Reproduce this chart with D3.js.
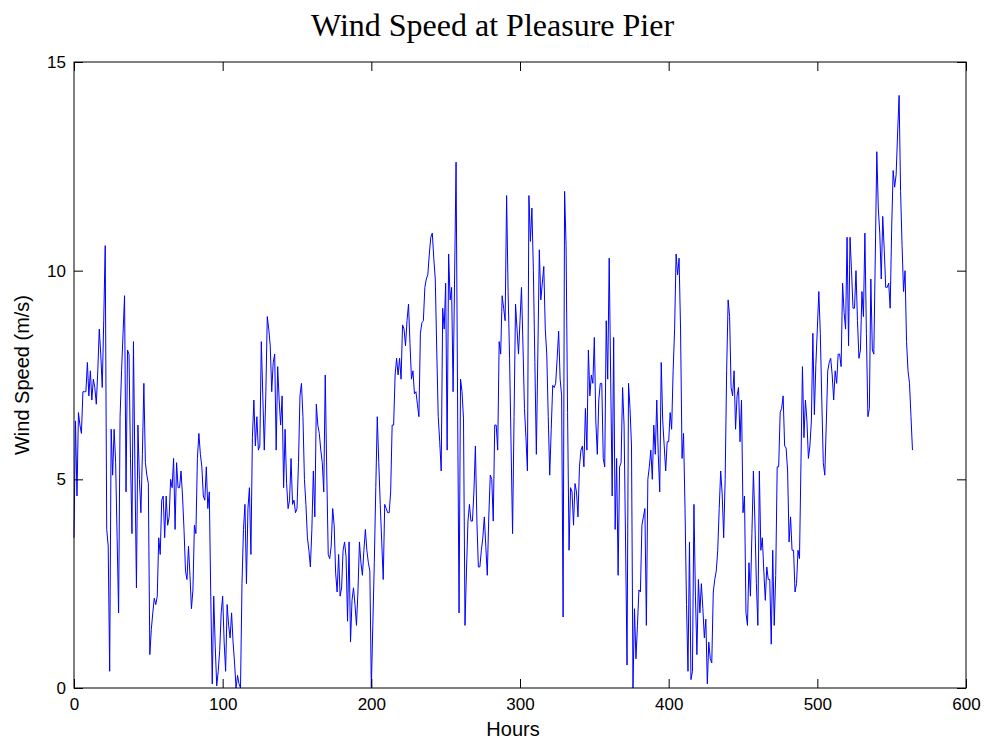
<!DOCTYPE html>
<html>
<head>
<meta charset="utf-8">
<script src="https://cdn.jsdelivr.net/npm/d3@7/dist/d3.min.js"></script>
<style>
body { margin: 0; background: #ffffff; }
</style>
</head>
<body>
<svg id="drawing_region"></svg>
<script>
// hourly wind speed (m/s), one value per hour starting at hour 0
const wind_speed = [
    3.6, 6.4, 4.6, 6.6, 6.3, 6.1, 7.1, 7.1, 7.1, 7.8,
    7.0, 7.6, 6.9, 7.4, 7.2, 6.8, 7.6, 8.6, 8.0, 7.2,
    8.8, 10.6, 3.8, 3.4, 0.4, 6.2, 5.1, 6.2, 5.4, 3.6,
    1.8, 6.5, 7.6, 8.5, 9.4, 4.7, 8.1, 8.0, 5.5, 3.7,
    8.3, 5.2, 2.4, 6.3, 5.0, 4.2, 5.6, 7.3, 5.4, 5.1,
    4.9, 0.8, 1.4, 1.8, 2.15, 2.0, 2.2, 3.6, 3.2, 4.5,
    4.6, 3.6, 4.6, 3.9, 4.1, 5.0, 4.8, 5.5, 3.8, 5.4,
    4.8, 4.8, 5.2, 4.6, 3.8, 2.8, 2.6, 3.4, 2.7, 1.9,
    2.35, 3.9, 3.7, 5.5, 6.1, 5.6, 5.3, 4.6, 4.5, 5.3,
    4.3, 4.7, 2.2, 0.1, 2.2, 1.0, 0.05, 0.4, 0.9, 1.8,
    2.2, 1.1, 0.4, 2.0, 1.5, 1.2, 1.8, 1.1, 0.6, 0.0,
    0.3, 0.1, 0.0, 2.5, 3.8, 4.4, 2.5, 4.3, 4.8, 3.2,
    6.0, 6.9, 5.8, 6.5, 5.7, 5.8, 8.3, 7.0, 5.7, 7.0,
    8.9, 8.6, 8.2, 7.1, 7.8, 8.0, 5.7, 7.7, 6.9, 6.3,
    7.0, 4.8, 6.2, 4.9, 4.3, 4.5, 5.5, 4.4, 4.5, 4.2,
    4.3, 5.4, 7.0, 7.3, 6.5, 5.0, 4.4, 3.6, 3.3, 2.9,
    3.8, 5.2, 4.1, 6.8, 6.3, 6.1, 5.7, 5.4, 4.7, 7.5,
    5.2, 3.2, 3.1, 3.4, 4.3, 3.9, 2.75, 2.3, 3.2, 2.2,
    2.4, 3.3, 3.5, 3.15, 1.6, 3.5, 1.1, 2.1, 2.4, 2.0,
    1.5, 2.3, 3.5, 3.0, 2.7, 3.3, 3.8, 3.3, 3.0, 2.8,
    0.0, 1.5, 3.0, 4.8, 6.5, 5.4, 4.4, 3.5, 2.6, 4.4,
    4.3, 4.2, 4.2, 4.7, 6.3, 6.3, 7.5, 7.9, 7.5, 7.9,
    7.4, 8.7, 8.6, 8.2, 8.8, 9.2, 8.25, 7.4, 7.6, 7.05,
    7.1, 6.8, 6.5, 8.5, 8.75, 8.8, 9.6, 9.8, 9.9, 10.4,
    10.8, 10.9, 10.3, 9.8, 8.1, 6.5, 5.9, 5.2, 9.1, 8.6,
    9.7, 5.7, 10.4, 9.3, 9.6, 7.1, 9.8, 12.6, 7.0, 1.8,
    7.4, 7.1, 6.45, 1.5, 2.8, 4.0, 4.4, 4.0, 4.0, 4.7,
    5.8, 4.0, 2.9, 2.9, 3.3, 3.6, 4.1, 3.4, 2.7, 4.1,
    5.1, 5.0, 4.0, 6.3, 6.3, 5.7, 8.3, 8.0, 9.4, 9.1,
    8.8, 11.8, 9.5, 7.9, 5.8, 3.7, 6.5, 9.2, 8.6, 8.0,
    8.8, 9.6, 8.2, 6.7, 6.0, 5.2, 11.8, 10.7, 11.5, 10.0,
    7.8, 5.6, 8.0, 10.5, 9.3, 9.7, 10.1, 8.6, 8.0, 6.5,
    5.1, 6.2, 7.25, 7.2, 7.3, 7.9, 8.55, 7.4, 7.0, 1.7,
    11.9, 10.6, 6.6, 3.3, 4.8, 4.7, 3.9, 4.9, 4.7, 4.1,
    5.3, 5.7, 5.8, 5.3, 6.7, 5.7, 8.1, 7.0, 7.5, 7.3,
    8.4, 6.4, 5.6, 6.9, 7.3, 7.3, 5.5, 5.3, 8.8, 7.4,
    10.3, 7.4, 4.6, 8.4, 3.8, 5.5, 2.7, 5.3, 5.4, 7.2,
    6.3, 3.5, 0.55, 7.3, 6.7, 5.8, 0.0, 1.9, 0.7, 1.5,
    2.35, 2.3, 3.9, 4.1, 4.3, 1.5, 5.0, 5.3, 5.7, 5.0,
    6.3, 5.6, 6.9, 5.6, 4.7, 7.8, 6.4, 5.8, 5.2, 5.9,
    5.9, 6.6, 6.2, 7.6, 8.6, 10.4, 9.9, 10.3, 8.6, 5.5,
    6.1, 4.3, 2.0, 0.4, 3.5, 0.2, 0.4, 4.4, 2.2, 0.8,
    2.6, 1.8, 2.5, 1.9, 1.2, 1.65, 0.1, 1.1, 0.7, 0.6,
    2.3, 2.6, 2.8, 3.3, 4.3, 5.2, 4.65, 3.6, 5.0, 7.6,
    9.3, 8.9, 7.2, 7.0, 7.6, 6.2, 7.0, 7.2, 5.9, 6.9,
    4.2, 4.6, 1.8, 1.5, 3.0, 2.2, 3.7, 5.2, 4.0, 2.5,
    1.5, 5.2, 3.3, 3.6, 2.8, 2.1, 2.9, 2.6, 2.6, 1.05,
    3.3, 1.5, 2.7, 5.3, 5.3, 6.6, 6.7, 7.0, 5.8, 5.75,
    5.2, 3.5, 4.1, 3.3, 3.3, 2.3, 2.5, 3.3, 3.1, 5.4,
    7.7, 6.0, 6.9, 6.4, 5.5, 5.8, 6.4, 8.5, 6.55, 7.75,
    8.6, 9.5, 8.5, 6.9, 5.4, 5.1, 6.3, 7.6, 7.8, 7.9,
    7.5, 6.9, 7.6, 7.3, 8.0, 8.0, 7.7, 9.7, 9.0, 8.6,
    10.8, 8.2, 10.8, 10.0, 9.1, 9.1, 10.0, 8.8, 7.9, 8.1,
    9.5, 8.9, 10.9, 8.5, 6.5, 6.7, 9.8, 8.1, 8.0, 10.4,
    12.85, 11.5, 10.9, 9.8, 11.3, 10.5, 9.6, 9.6, 9.7, 9.1,
    11.0, 12.4, 12.0, 12.3, 13.3, 14.2, 11.9, 10.6, 9.5, 10.0,
    8.3, 7.6, 7.3, 6.5, 5.7
];

const x_ticks = [0, 100, 200, 300, 400, 500, 600];
const y_ticks = [0, 5, 10, 15];

const title_text = "Wind Speed at Pleasure Pier";
const x_label = "Hours";
const y_label = "Wind Speed (m/s)";

class WindChart {

    constructor( config, data ) {
        this.config = {
            parent: config.parent,
            width: config.width || 985,
            height: config.height || 742,
            margin: config.margin || {top:62, right:19, bottom:54, left:74}
        };
        this.data = data;
        this.init();
    }

    init() {
        let self = this;

        self.svg = d3.select( self.config.parent )
            .attr('width', self.config.width)
            .attr('height', self.config.height);

        self.inner_width = self.config.width - self.config.margin.left - self.config.margin.right;
        self.inner_height = self.config.height - self.config.margin.top - self.config.margin.bottom;

        self.chart = self.svg.append('g')
            .attr('transform', `translate(${self.config.margin.left}, ${self.config.margin.top})`);

        self.xscale = d3.scaleLinear()
            .domain( [0, 600] )
            .range( [0, self.inner_width] );

        self.yscale = d3.scaleLinear()
            .domain( [0, 15] )
            .range( [self.inner_height, 0] );

        // matlab style: ticks point inward, on all four sides
        self.xaxis = d3.axisBottom( self.xscale )
            .tickValues( x_ticks )
            .tickSizeInner( -9 )
            .tickSizeOuter( 0 )
            .tickPadding( 10 );

        self.yaxis = d3.axisLeft( self.yscale )
            .tickValues( y_ticks )
            .tickSizeInner( -9 )
            .tickSizeOuter( 0 )
            .tickPadding( 8 );

        self.xaxis_top = d3.axisTop( self.xscale )
            .tickValues( x_ticks )
            .tickSizeInner( -9 )
            .tickSizeOuter( 0 )
            .tickFormat( '' );

        self.yaxis_right = d3.axisRight( self.yscale )
            .tickValues( y_ticks )
            .tickSizeInner( -9 )
            .tickSizeOuter( 0 )
            .tickFormat( '' );

        self.svg.append('text')
            .attr('x', self.config.width / 2)
            .attr('y', 36)
            .attr('text-anchor', 'middle')
            .attr('font-family', '"Liberation Serif", "Times New Roman", serif')
            .attr('font-size', 32)
            .text( title_text );

        self.svg.append('text')
            .attr('x', 513)
            .attr('y', 736)
            .attr('text-anchor', 'middle')
            .attr('font-family', '"Liberation Sans", Arial, sans-serif')
            .attr('font-size', 20)
            .text( x_label );

        const ly = self.config.margin.top + self.inner_height / 2;
        self.svg.append('text')
            .attr('x', 29)
            .attr('y', ly)
            .attr('transform', `rotate(-90, 29, ${ly})`)
            .attr('text-anchor', 'middle')
            .attr('font-family', '"Liberation Sans", Arial, sans-serif')
            .attr('font-size', 20)
            .text( y_label );
    }

    render() {
        let self = this;

        const line = d3.line()
            .x( (d, i) => self.xscale(i) )
            .y( d => self.yscale(d) );

        self.chart.append('path')
            .datum( self.data )
            .attr('fill', 'none')
            .attr('stroke', '#0000ff')
            .attr('stroke-width', 1)
            .attr('stroke-linejoin', 'round')
            .attr('d', line);

        const style_axis = g => {
            g.select('.domain').remove();
            g.selectAll('.tick line').attr('stroke', '#000');
            g.selectAll('.tick text')
                .attr('fill', '#000')
                .attr('font-family', '"Liberation Sans", Arial, sans-serif')
                .attr('font-size', 17);
        };

        self.chart.append('g')
            .attr('transform', `translate(0, ${self.inner_height})`)
            .call( self.xaxis )
            .call( style_axis );

        self.chart.append('g')
            .call( self.yaxis )
            .call( style_axis );

        self.chart.append('g')
            .call( self.xaxis_top )
            .call( style_axis );

        self.chart.append('g')
            .attr('transform', `translate(${self.inner_width}, 0)`)
            .call( self.yaxis_right )
            .call( style_axis );

        self.chart.append('rect')
            .attr('x', 0)
            .attr('y', 0)
            .attr('width', self.inner_width)
            .attr('height', self.inner_height)
            .attr('fill', 'none')
            .attr('stroke', '#000')
            .attr('stroke-width', 1);
    }
}

const chart = new WindChart( {parent: '#drawing_region'}, wind_speed );
chart.render();
</script>
</body>
</html>
